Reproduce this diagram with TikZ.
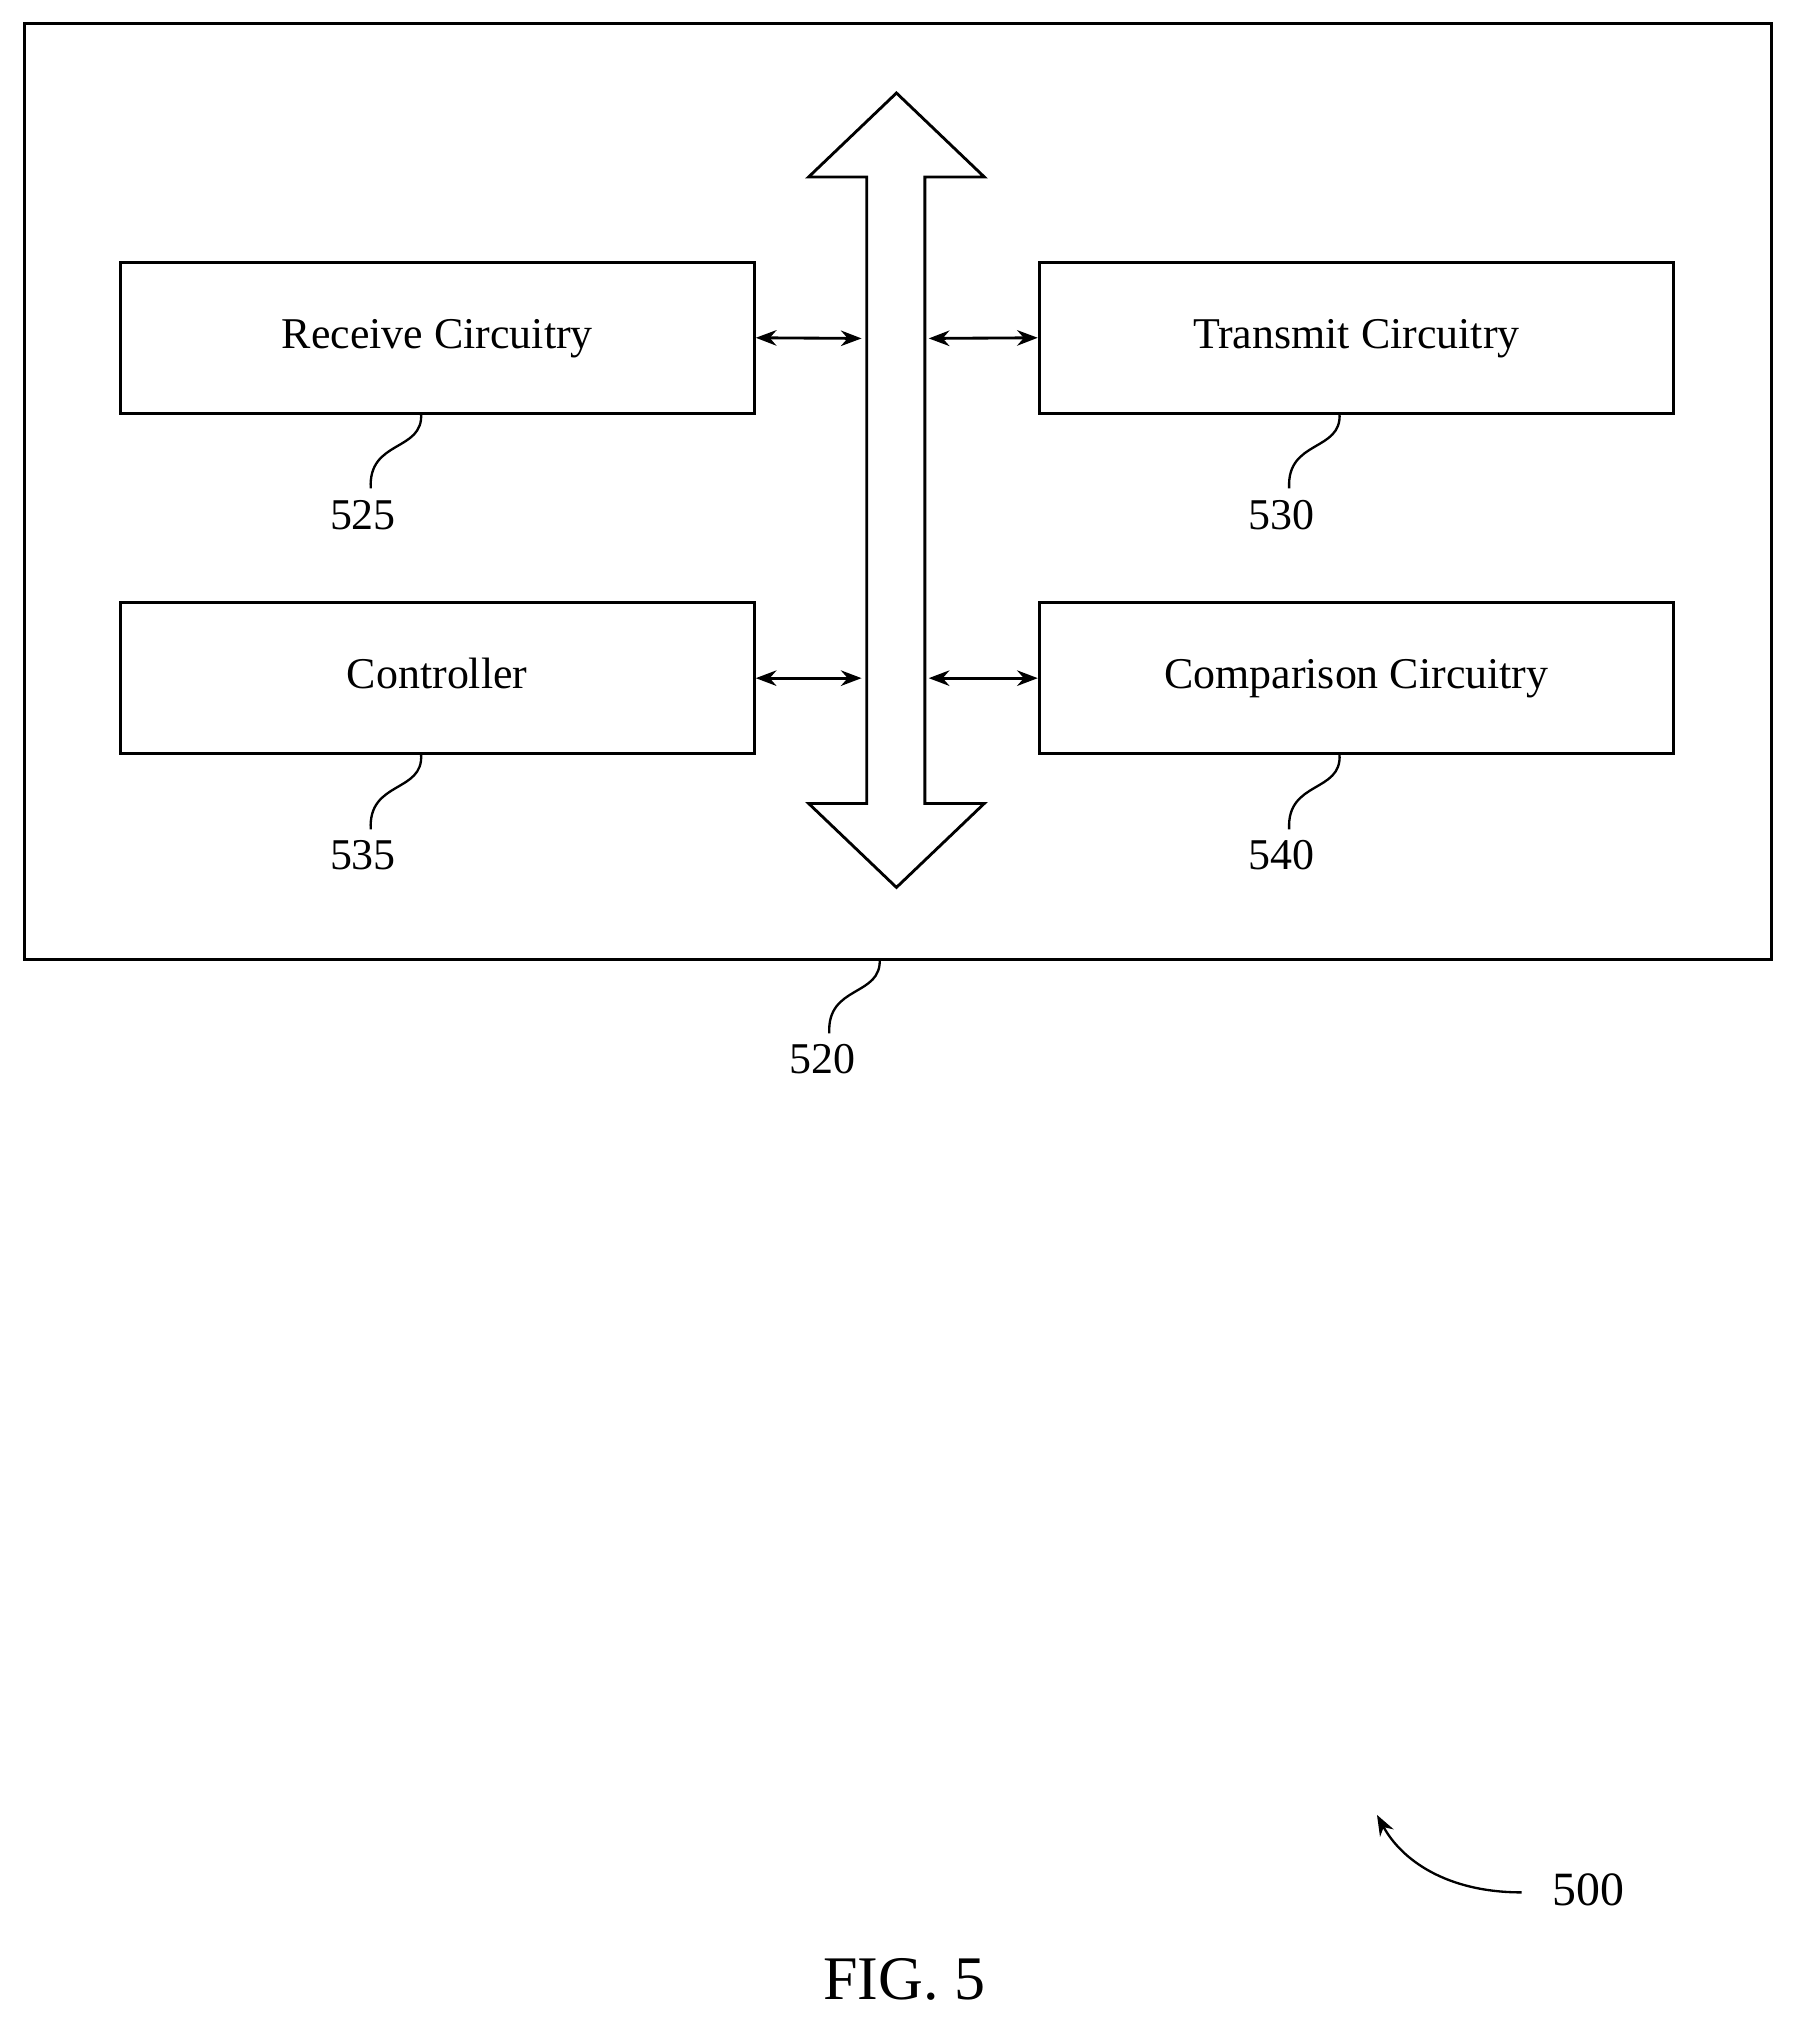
\documentclass[tikz,border=0pt]{standalone}
\usepackage{fontspec}
\setmainfont{Liberation Serif}
\usetikzlibrary{arrows.meta}
\begin{document}
\begin{tikzpicture}[x=1pt,y=-1pt,line width=2.2pt,
  box/.style={draw,minimum width=491pt,minimum height=117pt,text height=23pt,text depth=7pt,font=\fontsize{34}{38}\selectfont},
  lbl/.style={font=\fontsize{34}{38}\selectfont},
  con/.style={line width=2.2pt,{Stealth[length=16pt,width=12pt]}-{Stealth[length=16pt,width=12pt]}},
  sq/.style={line width=1.8pt}]
\useasboundingbox (0,0) rectangle (1390,1570);
\node[draw,minimum width=1352pt,minimum height=725pt,anchor=north west,inner sep=0] (outer) at (18,17) {};
\draw (694,72) -- (762,137) -- (716,137) -- (716,622) -- (762,622) -- (694,687) -- (626,622) -- (671,622) -- (671,137) -- (626,137) -- cycle;
\node[box] (rx) at (338.5,261.5) {Receive Circuitry};
\node[box] (tx) at (1050,261.5) {Transmit Circuitry};
\node[box] (ct) at (338.5,525) {Controller};
\node[box] (cp) at (1050,525) {Comparison Circuitry};
\coordinate (bl1) at (667,262); \coordinate (br1) at (719,262);
\coordinate (bl2) at (667,525); \coordinate (br2) at (719,525);
\draw[con] (rx.east) -- (bl1);
\draw[con] (br1) -- (tx.west);
\draw[con] (ct.east) -- (bl2);
\draw[con] (br2) -- (cp.west);
\node[lbl] (l525) at (281,399) {525};
\node[lbl] (l530) at (992,399) {530};
\node[lbl] (l535) at (281,662) {535};
\node[lbl] (l540) at (992,662) {540};
\node[lbl] (l520) at (637,820) {520};
\draw[sq] (326,320) .. controls (328,350) and (285,340) .. (287,378);
\draw[sq] (1037,320) .. controls (1039,350) and (996,340) .. (998,378);
\draw[sq] (326,584) .. controls (328,614) and (285,604) .. (287,642);
\draw[sq] (1037,584) .. controls (1039,614) and (996,604) .. (998,642);
\draw[sq] (681,742) .. controls (683,772) and (640,762) .. (642,800);
\node[font=\fontsize{37}{40}\selectfont] (l500) at (1230,1463) {500};
\draw[line width=1.8pt,-{Stealth[length=16pt,width=12pt]}] (1178,1465) .. controls (1120,1465) and (1085,1440) .. (1066,1405);
\node[font=\fontsize{48}{52}\selectfont] (fig) at (700,1532) {FIG. 5};
\end{tikzpicture}
\end{document}
